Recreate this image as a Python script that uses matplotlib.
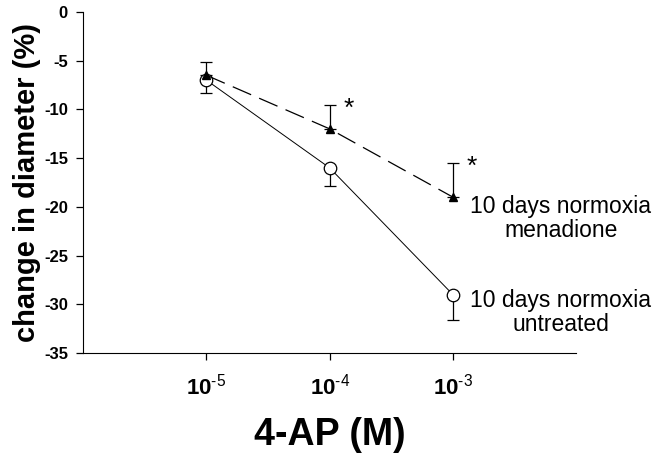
import matplotlib
matplotlib.use("Agg")
import matplotlib.pyplot as plt

plt.rcParams["font.family"] = ["Liberation Sans", "DejaVu Sans"]
plt.rcParams["mathtext.fontset"] = "custom"
plt.rcParams["mathtext.rm"] = "Liberation Sans"
plt.rcParams["mathtext.bf"] = "Liberation Sans:bold"

# data
conc = [1e-5, 1e-4, 1e-3]
untreated = [-7.0, -16.0, -29.0]
untreated_err = [1.3, 1.9, 2.6]
menadione = [-6.5, -12.0, -19.0]
menadione_err = [1.4, 2.5, 3.5]
tick_labels = [r"10$^{\text{-5}}$", r"10$^{\text{-4}}$", r"10$^{\text{-3}}$"]

fig = plt.figure(figsize=(6.6, 4.58), dpi=100)
ax = fig.add_axes([0.126, 0.229, 0.747, 0.745])

# untreated: open circles, solid line, error bars downward
ax.errorbar(conc, untreated, yerr=[untreated_err, [0, 0, 0]], color="black",
            lw=0.7, marker="o", ms=9, mfc="white", mec="black", mew=0.9,
            capsize=4, elinewidth=0.9, capthick=0.9, zorder=3)

# menadione: filled triangles, dashed line, error bars upward
ax.errorbar(conc, menadione, yerr=[[0, 0, 0], menadione_err], color="black",
            lw=0.9, ls=(0, (16, 7)), marker="^", ms=6, mfc="black", mec="black",
            capsize=4, elinewidth=0.9, capthick=0.9, zorder=3)

# significance markers
for xi, yi, e in zip(conc[1:], menadione[1:], menadione_err[1:]):
    ax.text(xi * 1.3, yi + e - 0.4, "*", fontsize=19, ha="left", va="center")

ax.text(7.5e-3, -21.2, "10 days normoxia\nmenadione", fontsize=16.5,
        ha="center", va="center", linespacing=1.05)
ax.text(7.5e-3, -30.8, "10 days normoxia\nuntreated", fontsize=16.5,
        ha="center", va="center", linespacing=1.05)

ax.set_xscale("log")
ax.set_xlim(1e-6, 1e-2)
ax.set_ylim(-35, 0)
ax.set_xticks(conc)
ax.set_xticklabels(tick_labels, fontsize=16, fontweight="bold")
ax.minorticks_off()
ax.set_yticks(range(-35, 1, 5))
ax.set_yticklabels([str(v) for v in range(-35, 1, 5)], fontsize=12, fontweight="bold")
ax.tick_params(direction="out", length=5, width=0.9)
ax.tick_params(axis="x", pad=10)
ax.tick_params(axis="y", pad=6)

ax.spines["top"].set_visible(False)
ax.spines["right"].set_visible(False)

ax.set_xlabel("4-AP (M)", fontsize=27, fontweight="bold", labelpad=12)
ax.set_ylabel("change in diameter (%)", fontsize=21, fontweight="bold", labelpad=2)

fig.savefig("out.png", dpi=100)
